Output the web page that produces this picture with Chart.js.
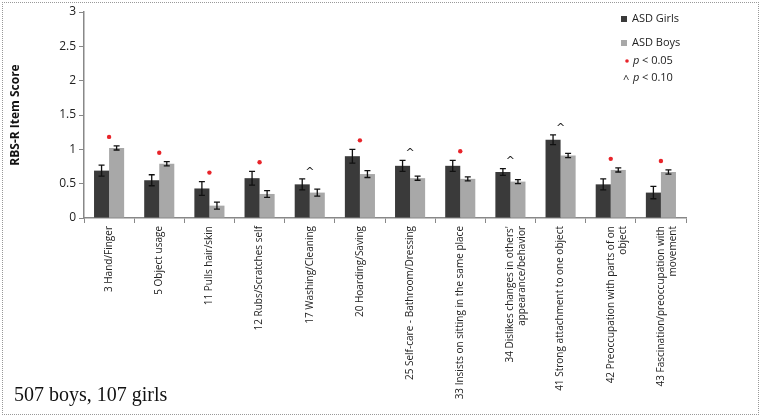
<!DOCTYPE html>
<html><head><meta charset="utf-8">
<script src="https://cdn.jsdelivr.net/npm/chart.js@4/dist/chart.umd.min.js"></script>
<style>
html,body{margin:0;padding:0;background:#fff;}
#wrap{position:relative;width:763px;height:419px;}
#frame{position:absolute;left:2px;top:2px;width:755px;height:411px;border:1px dotted #999;}
#note{position:absolute;left:14px;top:383px;font-family:"Liberation Serif",serif;font-size:20px;color:#111;}
</style></head>
<body>
<div id="wrap"><div id="frame"></div><canvas id="c" width="763" height="419"></canvas><div id="note">507 boys, 107 girls</div></div>
<script>
const labels = [
  '3 Hand/Finger', '5 Object usage', '11 Pulls hair/skin', '12 Rubs/Scratches self',
  '17 Washing/Cleaning', '20 Hoarding/Saving', '25 Self-care - Bathroom/Dressing',
  '33 Insists on sitting in the same place',
  ["34 Dislikes changes in others'", 'appearance/behavior'],
  '41 Strong attachment to one object',
  ['42 Preoccupation with parts of on', 'object'],
  ['43 Fascination/preoccupation with', 'movement']
];
const girls = [0.69, 0.55, 0.43, 0.58, 0.49, 0.90, 0.76, 0.76, 0.67, 1.14, 0.49, 0.37];
const boys = [1.02, 0.79, 0.18, 0.35, 0.37, 0.64, 0.58, 0.57, 0.53, 0.91, 0.70, 0.67];
const girlsErr = [0.08, 0.08, 0.10, 0.10, 0.08, 0.10, 0.08, 0.08, 0.05, 0.07, 0.08, 0.09];
const boysErr = [0.03, 0.03, 0.05, 0.05, 0.05, 0.05, 0.03, 0.03, 0.03, 0.03, 0.03, 0.03];
const marks = ['*', '*', '*', '*', '^', '*', '^', '*', '^', '^', '*', '*'];
const yTicks = ['0', '0.5', '1', '1.5', '2', '2.5', '3'];

const errorBars = {
  id: 'errorBars',
  afterDatasetsDraw(chart) {
    const ctx = chart.ctx, y = chart.scales.y;
    const errs = [girlsErr, boysErr];
    ctx.save();
    ctx.strokeStyle = '#111'; ctx.lineWidth = 1.3;
    chart.data.datasets.forEach((ds, di) => {
      chart.getDatasetMeta(di).data.forEach((bar, i) => {
        const v = ds.data[i], e = errs[di][i];
        const x = bar.x, t = y.getPixelForValue(v + e), b = y.getPixelForValue(v - e);
        ctx.beginPath();
        ctx.moveTo(x, t); ctx.lineTo(x, b);
        ctx.moveTo(x - 3, t); ctx.lineTo(x + 3, t);
        ctx.moveTo(x - 3, b); ctx.lineTo(x + 3, b);
        ctx.stroke();
      });
    });
    // significance marks
    const m0 = chart.getDatasetMeta(0).data, m1 = chart.getDatasetMeta(1).data;
    marks.forEach((m, i) => {
      const top = Math.max(girls[i] + girlsErr[i], boys[i] + boysErr[i]);
      const x = (m0[i].x + m1[i].x) / 2, py = y.getPixelForValue(top) - 9;
      if (m === '*') {
        ctx.fillStyle = '#e8242a';
        ctx.beginPath(); ctx.arc(x, py, 2.2, 0, Math.PI * 2); ctx.fill();
      } else {
        ctx.fillStyle = '#222'; ctx.font = '11px "DejaVu Sans"';
        ctx.textAlign = 'center'; ctx.textBaseline = 'middle';
        ctx.fillText('^', x, py + 2);
      }
    });
    // legend
    ctx.font = '11px "Open Sans"'; ctx.textBaseline = 'middle'; ctx.textAlign = 'left';
    ctx.fillStyle = '#3a3a3a'; ctx.fillRect(621, 16, 6, 6);
    ctx.fillStyle = '#222'; ctx.fillText('ASD Girls', 632, 19);
    ctx.fillStyle = '#a8a8a8'; ctx.fillRect(621, 40, 6, 6);
    ctx.fillStyle = '#222'; ctx.fillText('ASD Boys', 632, 43);
    ctx.fillStyle = '#e8242a'; ctx.beginPath(); ctx.arc(627, 61, 1.8, 0, Math.PI * 2); ctx.fill();
    ctx.fillStyle = '#222'; ctx.font = 'italic 11px "Open Sans"'; ctx.fillText('p', 633, 61);
    ctx.font = '11px "Open Sans"'; ctx.fillText('< 0.05', 642, 61);
    ctx.fillText('^', 623, 80);
    ctx.font = 'italic 11px "Open Sans"'; ctx.fillText('p', 633, 78);
    ctx.font = '11px "Open Sans"'; ctx.fillText('< 0.10', 642, 78);
    ctx.restore();
  }
};

new Chart(document.getElementById('c'), {
  type: 'bar',
  data: {
    labels,
    datasets: [
      { label: 'ASD Girls', data: girls, backgroundColor: '#3a3a3a', categoryPercentage: 0.6, barPercentage: 1.0 },
      { label: 'ASD Boys', data: boys, backgroundColor: '#a8a8a8', categoryPercentage: 0.6, barPercentage: 1.0 }
    ]
  },
  options: {
    responsive: false,
    animation: false,
    layout: { padding: { top: 12, right: 77, left: 4 } },
    plugins: { legend: { display: false }, tooltip: { enabled: false } },
    scales: {
      x: {
        offset: true,
        grid: { display: true, drawOnChartArea: false, tickLength: 5, color: '#888', offset: true },
        border: { color: '#888', width: 1.5 },
        ticks: { minRotation: 90, maxRotation: 90, autoSkip: false, color: '#222', font: { family: 'Open Sans', size: 10 } },
        afterFit(s) { s.height = 201; }
      },
      y: {
        min: 0, max: 3,
        ticks: { stepSize: 0.5, color: '#222', font: { family: 'Open Sans', size: 12 },
          callback: (v, i) => yTicks[i] },
        grid: { display: true, drawOnChartArea: false, tickLength: 5, color: '#888' },
        border: { color: '#888', width: 1.5 },
        title: { display: true, text: 'RBS-R Item Score', color: '#111', font: { family: 'Open Sans', size: 12, weight: 'bold' } },
        afterFit(s) { s.width = 80; }
      }
    }
  },
  plugins: [errorBars]
});
</script>
</body></html>
